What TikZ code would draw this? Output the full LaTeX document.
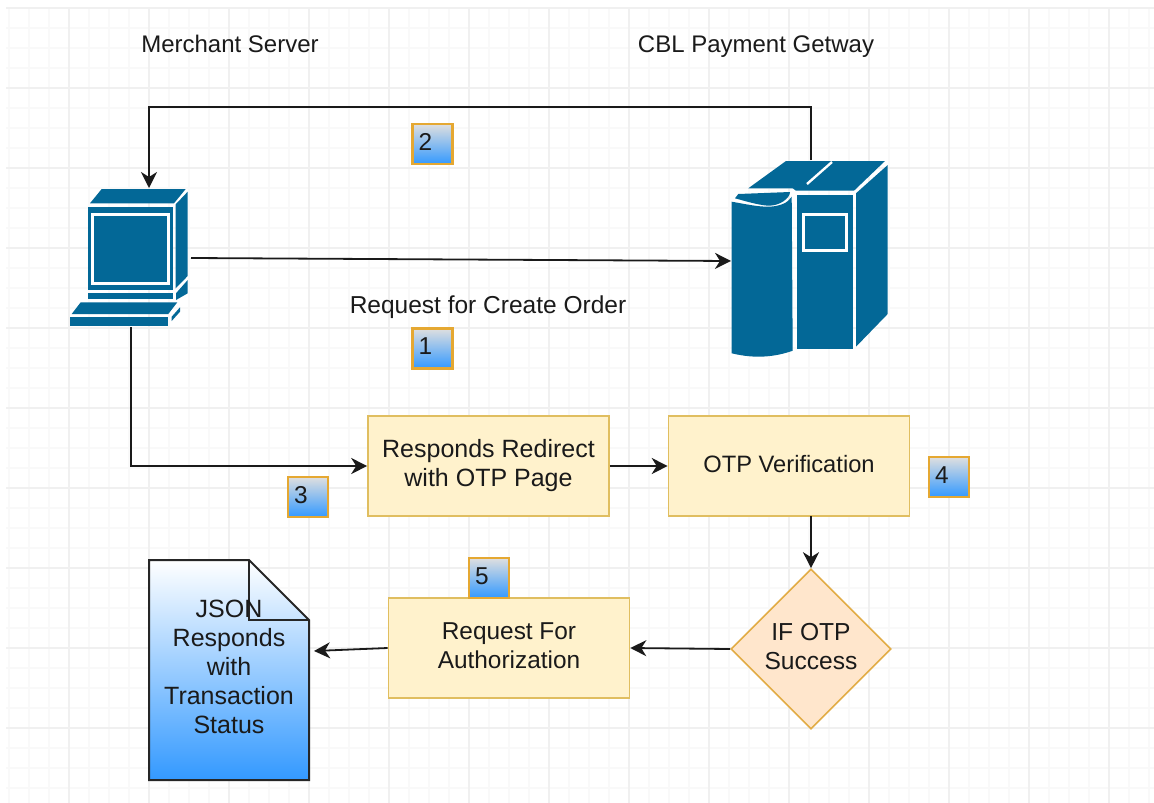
\documentclass[tikz,border=0pt]{standalone}
\usepackage{fontspec}
\setmainfont{Liberation Sans}
\usetikzlibrary{shapes.geometric,arrows.meta}
\definecolor{ciscoblue}{HTML}{036897}
\definecolor{boxfill}{HTML}{FFF2CC}
\definecolor{boxline}{HTML}{E0BE60}
\definecolor{diafill}{HTML}{FFE6CC}
\definecolor{dialine}{HTML}{E2AC45}
\definecolor{badgeline}{HTML}{E5A832}
\definecolor{gradblue}{HTML}{3399FF}
\definecolor{minorgrid}{HTML}{F9F9F9}
\definecolor{majorgrid}{HTML}{F0F0F0}
\definecolor{inkcol}{HTML}{1A1A1A}
\tikzset{
  every node/.style={font=\fontsize{24.4}{29}\selectfont,text=inkcol},
  flowbox/.style={draw=boxline,fill=boxfill,line width=1.6pt,minimum width=241pt,minimum height=100pt,inner sep=0pt,align=center},
  decision/.style={diamond,draw=dialine,fill=diafill,line width=1.6pt,minimum width=160pt,minimum height=160pt,inner sep=0pt,align=center},
  badge/.style={draw=badgeline,line width=2.4pt,top color=gray!25,bottom color=gradblue,minimum width=40pt,minimum height=40pt,inner sep=0pt},
  docshape/.style={draw=black!85,line width=2pt,top color=white,bottom color=gradblue,line join=miter},
  plain/.style={inner sep=0pt,align=center},
  link/.style={draw=inkcol,line width=1.8pt,-{Stealth[length=16pt,width=16pt,inset=5pt]}},
  iconfill/.style={fill=ciscoblue,draw=none},
  iconline/.style={draw=white,line width=3pt},
}
\newcommand{\badgetext}[1]{\makebox[40pt][l]{\hspace{6pt}\raisebox{4.5pt}{#1}}}
\begin{document}
\begin{tikzpicture}[x=1pt,y=-1pt]
\useasboundingbox (0,0) rectangle (1154,803);
\fill[white] (0,0) rectangle (1154,803);
% grid
\begin{scope}
\clip (6,7) rectangle (1154,803);
\foreach \gx in {9,29,...,1149} \draw[minorgrid,line width=1.2pt] (\gx,7) -- (\gx,803);
\foreach \gy in {8,28,...,800} \draw[minorgrid,line width=1.2pt] (6,\gy) -- (1154,\gy);
\foreach \gx in {69,149,...,1149} \draw[majorgrid,line width=1.4pt] (\gx,7) -- (\gx,803);
\foreach \gy in {8,88,...,800} \draw[majorgrid,line width=1.4pt] (6,\gy) -- (1154,\gy);
\end{scope}
% computer icon
\fill[iconfill] (90,203.3) -- (101.7,189) -- (185.7,189) -- (174,203.3) -- cycle;
\fill[iconfill] (87.7,207) rectangle (172.5,289.5);
\draw[iconline] (92.5,214) rectangle (168,283.5);
\fill[iconfill] (175.7,204.3) -- (187.7,191.7) -- (187.7,276) -- (175.7,288.3) -- cycle;
\fill[iconfill] (87.7,293.3) rectangle (172.5,299);
\fill[iconfill] (176,293.3) -- (187.7,280) -- (187.7,293.3) -- (176,300) -- cycle;
\fill[iconfill] (71.7,314) -- (80.7,302.3) -- (177.3,302.3) -- (168.3,314) -- cycle;
\fill[iconfill] (70,317.3) rectangle (168.3,325.7);
\fill[iconfill] (171.7,316.7) -- (180,307.3) -- (180,311.7) -- (171.7,321) -- cycle;
% server icon
\fill[iconfill] (748.3,188.3) -- (786,161) -- (885,161) -- (854,190.7) -- (796,190.7) -- (792.7,188.3) -- cycle;
\draw[white,line width=2.4pt] (807,184) -- (832,162);
\fill[iconfill] (735,198.3) -- (738.3,194) -- (790,192) .. controls (790,198) and (780,206) .. (768,205.7) .. controls (758,205) and (745,201) .. (735,198.3) -- cycle;
\fill[iconfill] (731.7,201.7) .. controls (745,204) and (758,207) .. (770,206.7) .. controls (780,206) and (788,203) .. (791.7,196.7) -- (792.7,350.7) .. controls (775,357) and (755,359) .. (731.7,353.3) -- cycle;
\fill[iconfill] (796.7,195) rectangle (852.7,349.3);
\draw[white,line width=3pt] (803.3,214) rectangle (846.7,250);
\fill[iconfill] (856,193.3) -- (887.7,165) -- (887.7,314) -- (856,346.7) -- cycle;
% document
\shade[docshape] (149,560) -- (249,560) -- (309,620) -- (309,780) -- (149,780) -- cycle;
\draw[black!85,line width=2pt] (249,560) -- (249,620) -- (309,620);
% anchors on the icons and the document
\coordinate (pcRight) at (191,258);
\coordinate (pcTop) at (149,188);
\coordinate (pcBottom) at (131,327);
\coordinate (srvLeft) at (731,261);
\coordinate (srvTop) at (811,160);
\coordinate (docRight) at (314,651);
\coordinate (busA) at (811,107);
\coordinate (busB) at (149,107);
\coordinate (busC) at (131,466);
\coordinate (otpOut) at (811,516);
% texts
\node[plain,anchor=base,font=\fontsize{24}{29}\selectfont] (merchant) at (230,52) {Merchant Server};
\node[plain,anchor=base,font=\fontsize{24}{29}\selectfont] (gateway) at (756,52) {CBL Payment Getway};
\node[plain,anchor=base,font=\fontsize{24.5}{29}\selectfont] (request) at (488,313) {Request for Create Order};
\node[plain,font=\fontsize{25}{29}\selectfont] (doctext) at (229,667) {JSON\\Responds\\with\\Transaction\\Status};
% boxes
\node[flowbox,font=\fontsize{25}{29}\selectfont] (redirect) at (488.5,466) {\raisebox{2pt}{\begin{tabular}{@{}c@{}}Responds Redirect\\with OTP Page\end{tabular}}};
\node[flowbox,font=\fontsize{23.7}{29}\selectfont] (otp) at (789,466) {\raisebox{5pt}{OTP Verification}};
\node[flowbox] (auth) at (509,648) {\raisebox{1pt}{\begin{tabular}{@{}c@{}}Request For\\Authorization\end{tabular}}};
\node[decision,font=\fontsize{24.6}{29}\selectfont] (ifotp) at (811,649) {\raisebox{2pt}{\begin{tabular}{@{}c@{}}IF OTP\\Success\end{tabular}}};
% badges
\node[badge] (b1) at (432.5,348.5) {\badgetext{1}};
\node[badge] (b2) at (432.5,144) {\badgetext{2}};
\node[badge] (b3) at (308,497) {\badgetext{3}};
\node[badge] (b4) at (949,477) {\badgetext{4}};
\node[badge] (b5) at (489,578) {\badgetext{5}};
% connectors
\draw[link] (pcRight) -- (srvLeft);
\draw[link] (srvTop) -- (busA) -- (busB) -- (pcTop);
\draw[link] (pcBottom) -- (busC) -- (redirect.west);
\draw[link] (redirect.east) -- (otp.west);
\draw[link] (otpOut) -- (ifotp.north);
\draw[link] (ifotp.west) -- (auth.east);
\draw[link] (auth.west) -- (docRight);
\end{tikzpicture}
\end{document}
